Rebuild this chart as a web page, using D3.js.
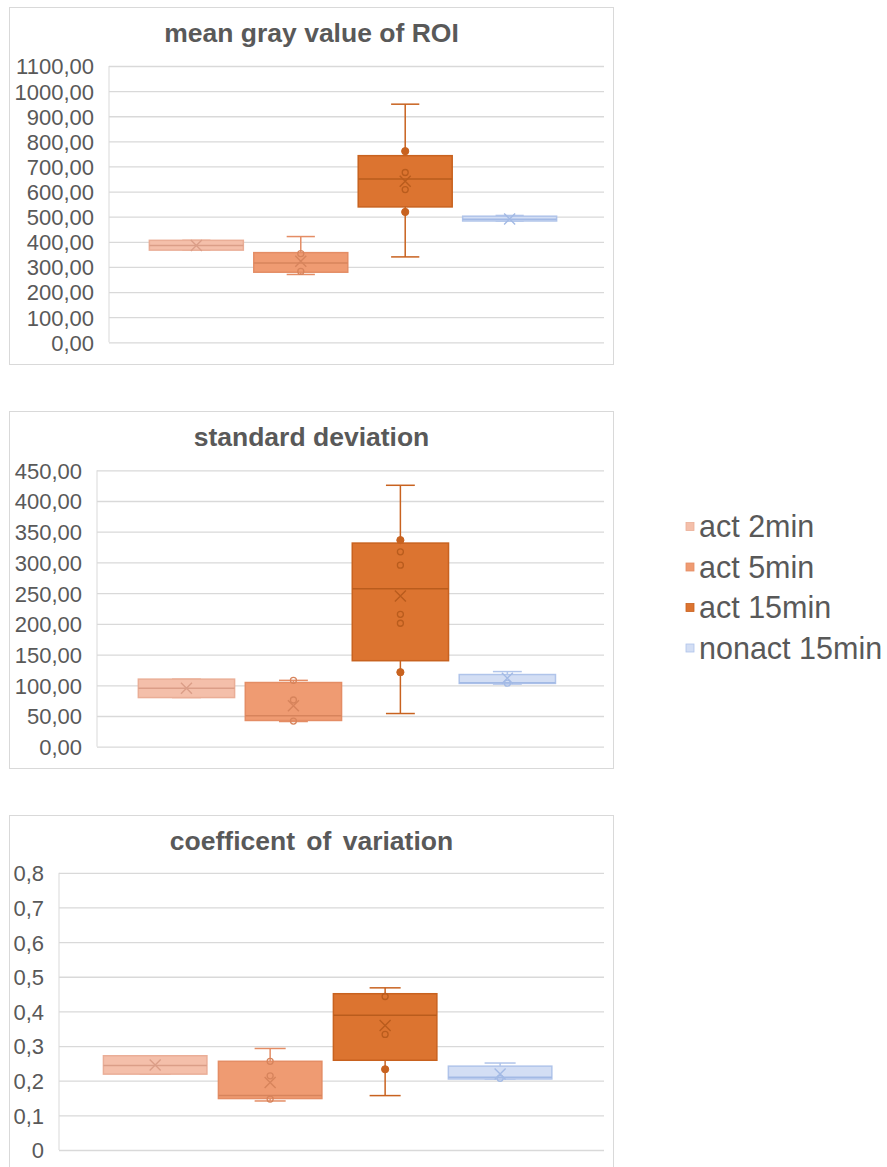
<!DOCTYPE html>
<html>
<head>
<meta charset="utf-8">
<script src="https://cdn.jsdelivr.net/npm/d3@7"></script>
<style>
  body { margin: 0; background: #fff; }
  svg { display: block; font-family: "Liberation Sans", Arial, sans-serif; }
</style>
</head>
<body>
<div id="chart"></div>
<script>
// series (one box each)
const series = ["act 2min", "act 5min", "act 15min", "nonact 15min"];

// mean gray value of ROI
const mgMin    = [367, 270, 340, 483];
const mgQ1     = [367, 279, 539, 483];
const mgMedian = [385, 316, 650, 490];
const mgQ3     = [406, 357, 743, 502];
const mgMax    = [406, 421, 948, 505];
const mgMean   = [385, 323, 641, 491];
const mgInner  = [[], [353, 282], [676, 608], []];
const mgDots   = [[], [], [761, 519], []];
const mgTicks  = [0, 100, 200, 300, 400, 500, 600, 700, 800, 900, 1000, 1100];

// standard deviation
const sdMin    = [80, 41, 54, 102];
const sdQ1     = [80, 42.7, 140, 103];
const sdMedian = [95, 50.4, 257, 104];
const sdQ3     = [110, 104.5, 331.5, 117.5];
const sdMax    = [110, 108, 425.6, 122.3];
const sdMean   = [95, 66.6, 245.3, 111.5];
const sdInner  = [[], [108, 76, 41.7], [317.3, 295.6, 215.5, 201], [103.5]];
const sdDots   = [[], [], [336.3, 121.3], []];
const sdTicks  = [0, 50, 100, 150, 200, 250, 300, 350, 400, 450];

// coefficent of variation
const cvMin    = [0.219, 0.1415, 0.157, 0.205];
const cvQ1     = [0.219, 0.1485, 0.259, 0.205];
const cvMedian = [0.244, 0.157, 0.389, 0.21];
const cvQ3     = [0.272, 0.256, 0.451, 0.242];
const cvMax    = [0.272, 0.293, 0.468, 0.251];
const cvMean   = [0.245, 0.1945, 0.359, 0.219];
const cvInner  = [[], [0.256, 0.214, 0.147], [0.443, 0.3335], [0.207]];
const cvDots   = [[], [], [0.233], []];
const cvTicks  = [0, 0.1, 0.2, 0.3, 0.4, 0.5, 0.6, 0.7, 0.8];

// colours per series
const fills   = ["#F4BFAA", "#EF9B72", "#DC7430", "#D3DEF4"];
const strokes = ["#EAAE97", "#E48D65", "#C8621F", "#B0C4EA"];
const marks   = ["#DB9E88", "#D7845C", "#B95C1D", "#A3BAE5"];

const textColor = "#595959";
const gridColor = "#D9D9D9";

const svg = d3.select("#chart").append("svg")
  .attr("width", 887)
  .attr("height", 1167);

const comma2 = d => d3.format(".2f")(d).replace(".", ",");
const comma1 = d => d === 0 ? "0" : d3.format(".1f")(d).replace(".", ",");

function drawBoxChart(cfg) {
  const g = svg.append("g");

  // chart frame
  g.append("rect")
    .attr("x", 9.5).attr("y", cfg.top + 0.5)
    .attr("width", 604).attr("height", cfg.frameH)
    .attr("fill", "#fff")
    .attr("stroke", gridColor);

  g.append("text")
    .attr("x", 311.5).attr("y", cfg.top + 35)
    .attr("text-anchor", "middle")
    .attr("font-size", 26.5)
    .attr("font-weight", "bold")
    .attr("fill", textColor)
    .attr("word-spacing", cfg.wordSpacing || 0)
    .text(cfg.title);

  const y = d3.scaleLinear()
    .domain([0, cfg.ticks[cfg.ticks.length - 1]])
    .range([cfg.plotBottom, cfg.plotTop]);

  const x = d3.scaleBand()
    .domain(series)
    .range([cfg.plotLeft, 604])
    .paddingInner(0.1)
    .paddingOuter(0.42)
    .align(0.46);

  // gridlines
  g.append("g")
    .attr("transform", `translate(${cfg.plotLeft},0)`)
    .call(d3.axisLeft(y).tickValues(cfg.ticks).tickSize(-(604 - cfg.plotLeft)).tickFormat(""))
    .call(a => a.select(".domain").remove())
    .call(a => a.selectAll("line").attr("stroke", gridColor).attr("stroke-width", 1.3));

  // plot left edge
  g.append("line")
    .attr("x1", cfg.plotLeft).attr("x2", cfg.plotLeft)
    .attr("y1", cfg.plotTop).attr("y2", cfg.plotBottom)
    .attr("stroke", gridColor);

  // tick labels
  g.append("g")
    .attr("transform", `translate(${cfg.plotLeft - 12},0)`)
    .call(d3.axisLeft(y).tickValues(cfg.ticks).tickSize(0).tickFormat(cfg.format))
    .call(a => a.select(".domain").remove())
    .call(a => a.selectAll("text")
      .attr("font-size", 22)
      .attr("font-family", "\"Liberation Sans\", Arial, sans-serif")
      .attr("fill", textColor)
      .attr("dy", "0.36em"));

  series.forEach((s, i) => {
    const bx = x(s), bw = x.bandwidth(), cx = bx + bw / 2;
    const cap = bw * 0.15;

    // whisker
    g.append("line")
      .attr("x1", cx).attr("x2", cx)
      .attr("y1", y(cfg.max[i])).attr("y2", y(cfg.min[i]))
      .attr("stroke", strokes[i]).attr("stroke-width", 1.5);
    [cfg.max[i], cfg.min[i]].forEach(v => {
      g.append("line")
        .attr("x1", cx - cap).attr("x2", cx + cap)
        .attr("y1", y(v)).attr("y2", y(v))
        .attr("stroke", strokes[i]).attr("stroke-width", 1.5);
    });

    // box
    g.append("rect")
      .attr("x", bx).attr("width", bw)
      .attr("y", y(cfg.q3[i]))
      .attr("height", y(cfg.q1[i]) - y(cfg.q3[i]))
      .attr("fill", fills[i])
      .attr("stroke", strokes[i]).attr("stroke-width", 1.5);

    // median
    g.append("line")
      .attr("x1", bx).attr("x2", bx + bw)
      .attr("y1", y(cfg.median[i])).attr("y2", y(cfg.median[i]))
      .attr("stroke", marks[i]).attr("stroke-width", 1.5);

    // mean marker
    const my = y(cfg.mean[i]), m = 5.5;
    g.append("path")
      .attr("d", `M${cx - m},${my - m}L${cx + m},${my + m}M${cx - m},${my + m}L${cx + m},${my - m}`)
      .attr("stroke", marks[i]).attr("stroke-width", 1.4)
      .attr("fill", "none");

    // inner points
    cfg.inner[i].forEach(v => {
      g.append("circle")
        .attr("cx", cx).attr("cy", y(v)).attr("r", 3)
        .attr("fill", "none")
        .attr("stroke", marks[i]).attr("stroke-width", 1.3);
    });
    cfg.dots[i].forEach(v => {
      g.append("circle")
        .attr("cx", cx).attr("cy", y(v)).attr("r", 3.6)
        .attr("fill", strokes[i])
        .attr("stroke", strokes[i]);
    });
  });
}

drawBoxChart({
  title: "mean gray value of ROI", top: 7, frameH: 357,
  plotLeft: 109, plotTop: 66, plotBottom: 342.3,
  ticks: mgTicks, format: comma2,
  min: mgMin, q1: mgQ1, median: mgMedian, q3: mgQ3, max: mgMax, mean: mgMean,
  inner: mgInner, dots: mgDots
});

drawBoxChart({
  title: "standard deviation", top: 411, frameH: 357,
  plotLeft: 97, plotTop: 470.3, plotBottom: 746.7,
  ticks: sdTicks, format: comma2,
  min: sdMin, q1: sdQ1, median: sdMedian, q3: sdQ3, max: sdMax, mean: sdMean,
  inner: sdInner, dots: sdDots
});

drawBoxChart({
  title: "coefficent of variation", top: 815, frameH: 380, wordSpacing: 4,
  plotLeft: 59, plotTop: 872.8, plotBottom: 1150,
  ticks: cvTicks, format: comma1,
  min: cvMin, q1: cvQ1, median: cvMedian, q3: cvQ3, max: cvMax, mean: cvMean,
  inner: cvInner, dots: cvDots
});

// legend
const legend = svg.append("g").attr("transform", "translate(686,537)");
series.forEach((s, i) => {
  const row = legend.append("g").attr("transform", `translate(0,${i * 40.5})`);
  row.append("rect")
    .attr("x", 0).attr("y", -14.5)
    .attr("width", 8).attr("height", 8)
    .attr("fill", fills[i])
    .attr("stroke", strokes[i]).attr("stroke-width", 0.8);
  row.append("text")
    .attr("x", 13).attr("y", 0)
    .attr("font-size", 30.5)
    .attr("fill", textColor)
    .text(s);
});
</script>
</body>
</html>
